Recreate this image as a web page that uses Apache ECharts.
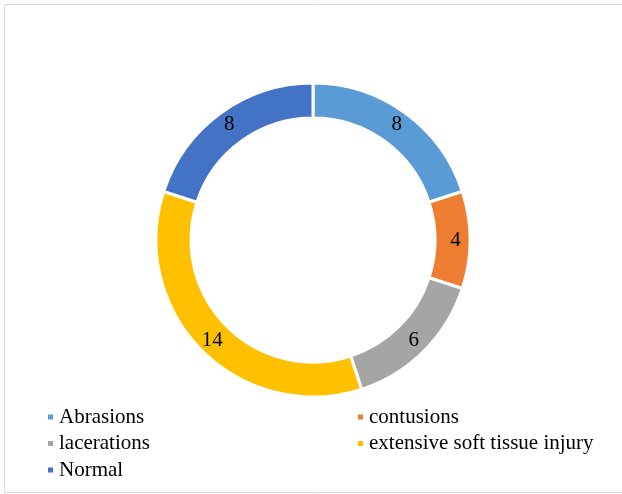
<!DOCTYPE html>
<html>
<head>
<meta charset="utf-8">
<script src="https://cdn.jsdelivr.net/npm/echarts@6/dist/echarts.min.js"></script>
<style>
  html, body { margin: 0; padding: 0; background: #fff; }
  #chart { width: 622px; height: 494px; }
</style>
</head>
<body>
<div id="chart"></div>
<script>
// Injury categories and case counts
const categories = ['Abrasions', 'contusions', 'lacerations', 'extensive soft tissue injury', 'Normal'];
const counts = [8, 4, 6, 14, 8];
const colors = ['#5B9BD5', '#ED7D31', '#A5A5A5', '#FFC000', '#4472C4'];

// Legend columns
const legendLeftColumn = ['Abrasions', 'lacerations', 'Normal'];
const legendRightColumn = ['contusions', 'extensive soft tissue injury'];

const serif = '"Liberation Serif", "Times New Roman", serif';

const chart = echarts.init(document.getElementById('chart'));

const legendCommon = {
  orient: 'vertical',
  top: 401,
  padding: 5,
  itemWidth: 7,
  itemHeight: 7,
  itemGap: 4.5,
  icon: 'rect',
  textStyle: { fontFamily: serif, fontSize: 21, color: '#000', lineHeight: 22 },
  selectedMode: false
};

chart.setOption({
  animation: false,
  color: colors,
  graphic: [{
    type: 'rect',
    shape: { x: 4.5, y: 4.5, width: 620, height: 488 },
    style: { fill: 'none', stroke: '#d9d9d9', lineWidth: 1 },
    silent: true
  }],
  legend: [
    Object.assign({ left: 41, data: legendLeftColumn }, legendCommon),
    Object.assign({ left: 351, data: legendRightColumn }, legendCommon)
  ],
  series: [{
    type: 'pie',
    center: [313, 240],
    radius: [122, 157],
    startAngle: 90,
    clockwise: true,
    avoidLabelOverlap: false,
    itemStyle: { borderColor: '#fff', borderWidth: 3 },
    label: {
      show: true,
      position: 'inside',
      formatter: '{c}',
      fontFamily: serif,
      fontSize: 21,
      color: '#000'
    },
    labelLine: { show: false },
    emphasis: { disabled: true },
    data: categories.map((name, i) => ({ name: name, value: counts[i] }))
  }]
});
</script>
</body>
</html>
